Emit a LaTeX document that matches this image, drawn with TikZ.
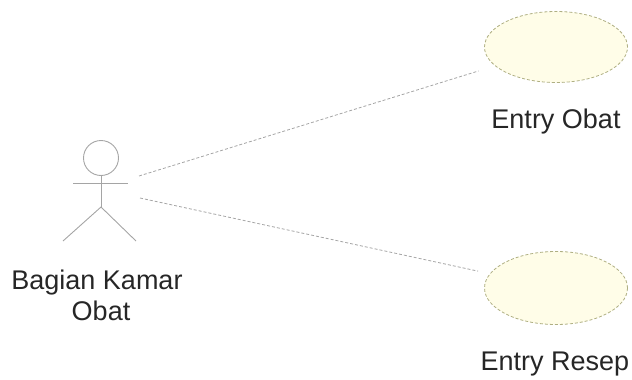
\documentclass[tikz,border=0pt]{standalone}
\usepackage{fontspec}
\setmainfont{Liberation Sans}
\definecolor{ucfill}{RGB}{255,253,232}
\definecolor{ucline}{RGB}{175,175,130}
\definecolor{thinline}{RGB}{165,165,165}
\tikzset{
  x=1pt,y=-1pt,
  usecase/.style={draw=ucline,fill=ucfill,ellipse,minimum width=143pt,minimum height=71pt,inner sep=0pt,line width=0.8pt,densely dashed},
  actorline/.style={draw=thinline,line width=0.9pt},
  assoc/.style={draw=thinline,line width=0.8pt,densely dashed},
  lbl/.style={font=\fontsize{27}{31}\selectfont,text=black!85,align=center,inner sep=0pt}
}
\usetikzlibrary{shapes.geometric}
\begin{document}
\begin{tikzpicture}
\useasboundingbox (0,0) rectangle (632,380);
\node[usecase] (uc1) at (556,47) {};
\node[usecase,minimum height=73pt] (uc2) at (556,288) {};
\node[lbl] (t1) at (556,122) {Entry Obat};
\node[lbl] (t2) at (555,364) {Entry Resep};
\node[lbl] (t3) at (97,295) {Bagian Kamar\\\hspace*{8pt}Obat};
\node[circle,actorline,minimum size=35pt,inner sep=0pt] (head) at (101,158) {};
\coordinate (armL) at (73,183);
\coordinate (armR) at (128,183);
\coordinate (hip) at (101,207);
\coordinate (footL) at (63,241);
\coordinate (footR) at (136,241);
\coordinate (a1) at (139,176);
\coordinate (a2) at (140,198);
\draw[actorline] (head.south) -- (hip);
\draw[actorline] (armL) -- (armR);
\draw[actorline] (footL) -- (hip) -- (footR);
\draw[assoc,shorten >=17pt] (a1) -- (uc1);
\draw[assoc,shorten >=12pt] (a2) -- (uc2);
\end{tikzpicture}
\end{document}
